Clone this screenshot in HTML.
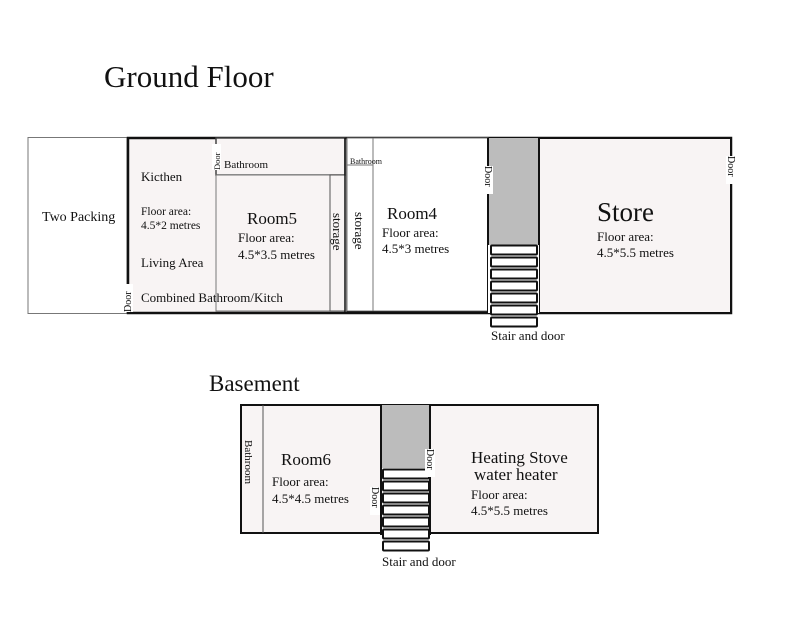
<!DOCTYPE html>
<html><head><meta charset="utf-8"><style>
html,body{margin:0;padding:0;background:#fff}
svg{display:block}
text{font-family:"Liberation Serif",serif;fill:#111}
</style></head><body>
<svg width="800" height="618" viewBox="0 0 800 618" xmlns="http://www.w3.org/2000/svg">
<text x="104" y="87" font-size="31">Ground Floor</text>
<rect x="28" y="137.5" width="99" height="176" fill="#fff" stroke="#777" stroke-width="1"/>
<text x="42" y="221" font-size="14">Two Packing</text>
<rect x="128" y="138" width="603" height="175" fill="#f8f4f4" stroke="#111" stroke-width="2.5"/>
<rect x="216" y="138" width="129" height="37" fill="#f8f4f4" stroke="#444" stroke-width="1.5"/>
<rect x="216" y="175" width="114" height="136" fill="#f8f4f4" stroke="#777" stroke-width="1"/>
<rect x="330" y="175" width="15" height="136" fill="#f8f4f4" stroke="#555" stroke-width="1"/>
<line x1="345" y1="138" x2="345" y2="313" stroke="#111" stroke-width="1.5"/>
<line x1="347" y1="138" x2="347" y2="312" stroke="#111" stroke-width="1.5"/>
<rect x="347" y="138" width="26" height="27" fill="#fff" stroke="#777" stroke-width="1"/>
<rect x="347" y="165" width="26" height="146" fill="#fff" stroke="#777" stroke-width="1"/>
<rect x="373" y="138" width="115" height="173" fill="#fff" stroke="#777" stroke-width="1"/>
<line x1="347" y1="312" x2="488" y2="312" stroke="#111" stroke-width="1.5"/>
<rect x="488" y="138" width="51" height="107" fill="#bcbcbc"/>
<line x1="488" y1="138" x2="488" y2="314" stroke="#111" stroke-width="2"/>
<line x1="539" y1="138" x2="539" y2="314" stroke="#111" stroke-width="2"/>
<rect x="539" y="138" width="192" height="175" fill="#f8f4f4" stroke="#111" stroke-width="2"/>
<rect x="488" y="245" width="51" height="68" fill="#fff"/>
<g fill="#fff" stroke="#111" stroke-width="2">
<rect x="491" y="245.5" width="46" height="9" rx="1"/>
<rect x="491" y="257.5" width="46" height="9" rx="1"/>
<rect x="491" y="269.5" width="46" height="9" rx="1"/>
<rect x="491" y="281.5" width="46" height="9" rx="1"/>
<rect x="491" y="293.5" width="46" height="9" rx="1"/>
<rect x="491" y="305.5" width="46" height="9" rx="1"/>
<rect x="491" y="317.5" width="46" height="9" rx="1"/>
</g>
<text x="491" y="340" font-size="13">Stair and door</text>
<rect x="123" y="284" width="10" height="28" fill="#fff"/>
<text transform="translate(131,312) rotate(-90)" font-size="10">Door</text>
<rect x="212" y="144" width="9" height="26" fill="#fff"/>
<text transform="translate(220,170) rotate(-90)" font-size="8.5">Door</text>
<rect x="483" y="166" width="10" height="28" fill="#fff"/>
<text transform="translate(485,166) rotate(90)" font-size="10">Door</text>
<rect x="726" y="156" width="10" height="28" fill="#fff"/>
<text transform="translate(728,156) rotate(90)" font-size="10">Door</text>
<text x="141" y="181" font-size="13">Kicthen</text>
<text x="141" y="215" font-size="11.5">Floor area:</text>
<text x="141" y="229" font-size="11.5">4.5*2 metres</text>
<text x="141" y="267" font-size="13">Living Area</text>
<text x="141" y="302" font-size="13">Combined Bathroom/Kitch</text>
<text x="224" y="168" font-size="11">Bathroom</text>
<text x="247" y="224" font-size="17">Room5</text>
<text x="238" y="242" font-size="13">Floor area:</text>
<text x="238" y="259" font-size="13">4.5*3.5 metres</text>
<text transform="translate(333,213) rotate(90)" font-size="13">storage</text>
<text transform="translate(355,212) rotate(90)" font-size="13">storage</text>
<text x="350" y="164" font-size="8">Bathroom</text>
<text x="387" y="219" font-size="17">Room4</text>
<text x="382" y="237" font-size="13">Floor area:</text>
<text x="382" y="253" font-size="13">4.5*3 metres</text>
<text x="597" y="221" font-size="27">Store</text>
<text x="597" y="241" font-size="13">Floor area:</text>
<text x="597" y="257" font-size="13">4.5*5.5 metres</text>
<text x="209" y="391" font-size="23">Basement</text>
<rect x="241" y="405" width="357" height="128" fill="#f8f4f4" stroke="#111" stroke-width="2"/>
<line x1="263" y1="405" x2="263" y2="533" stroke="#555" stroke-width="1"/>
<rect x="381" y="405" width="49" height="63" fill="#bcbcbc"/>
<line x1="381" y1="405" x2="381" y2="535" stroke="#111" stroke-width="2"/>
<line x1="430" y1="405" x2="430" y2="535" stroke="#111" stroke-width="2"/>
<rect x="382" y="468" width="47" height="64" fill="#fff"/>
<g fill="#fff" stroke="#111" stroke-width="2">
<rect x="383" y="469.5" width="46" height="9" rx="1"/>
<rect x="383" y="481.5" width="46" height="9" rx="1"/>
<rect x="383" y="493.5" width="46" height="9" rx="1"/>
<rect x="383" y="505.5" width="46" height="9" rx="1"/>
<rect x="383" y="517.5" width="46" height="9" rx="1"/>
<rect x="383" y="529.5" width="46" height="9" rx="1"/>
<rect x="383" y="541.5" width="46" height="9" rx="1"/>
</g>
<rect x="425" y="449" width="10" height="28" fill="#fff"/>
<text transform="translate(427,449) rotate(90)" font-size="10">Door</text>
<rect x="370" y="487" width="10" height="28" fill="#fff"/>
<text transform="translate(372,487) rotate(90)" font-size="10">Door</text>
<text x="382" y="566" font-size="13">Stair and door</text>
<text transform="translate(245,440) rotate(90)" font-size="11">Bathroom</text>
<text x="281" y="465" font-size="17">Room6</text>
<text x="272" y="486" font-size="13">Floor area:</text>
<text x="272" y="503" font-size="13">4.5*4.5 metres</text>
<text x="471" y="463" font-size="17">Heating Stove</text>
<text x="474" y="480" font-size="17">water heater</text>
<text x="471" y="499" font-size="13">Floor area:</text>
<text x="471" y="515" font-size="13">4.5*5.5 metres</text>
</svg>
</body></html>
